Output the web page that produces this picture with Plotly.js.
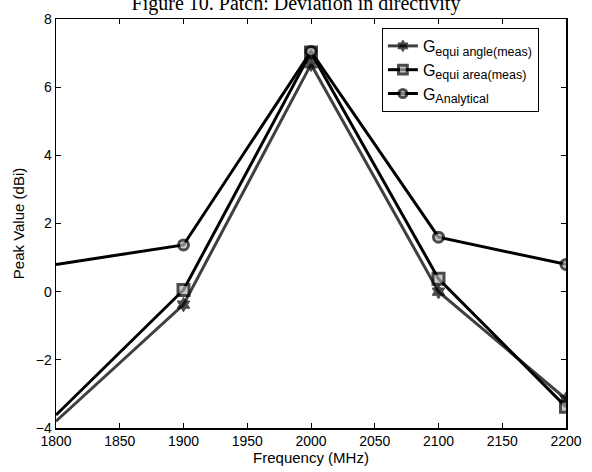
<!DOCTYPE html>
<html>
<head>
<meta charset="utf-8">
<script src="https://cdn.plot.ly/plotly-3.0.1.min.js"></script>
<style>html,body{margin:0;padding:0;background:#fff;}#chart{width:592px;height:472px;}</style>
</head>
<body>
<div id="chart"></div>
<script>
const frequency = [1800, 1900, 2000, 2100, 2200];
const gEquiAngle = [-3.8, -0.38, 6.67, 0.0, -3.15];
const gEquiArea = [-3.62, 0.05, 7.02, 0.38, -3.38];
const gAnalytical = [0.8, 1.37, 7.05, 1.6, 0.8];
const seriesBase = ['G', 'G', 'G'];
const seriesSubs = ['equi angle(meas)', 'equi area(meas)', 'Analytical'];
const xTicks = [1800, 1850, 1900, 1950, 2000, 2050, 2100, 2150, 2200];
const yTicks = [-4, -2, 0, 2, 4, 6, 8];

const names = seriesBase.map((b, i) => b + '<sub><span style="font-size:12.5px">' + seriesSubs[i] + '</span></sub>');
const shown = frequency.map((f, i) => i > 0);
const traces = [
  {x: frequency, y: gEquiAngle, name: names[0], mode: 'lines+markers',
   line: {color: '#404040', width: 3},
   marker: {symbol: 'hexagram', size: shown.map(s => s ? 11 : 0), color: '#000', line: {color: '#000', width: 1}}},
  {x: frequency, y: gEquiArea, name: names[1], mode: 'lines+markers',
   line: {color: '#000', width: 3},
   marker: {symbol: 'square', size: shown.map(s => s ? 11 : 0), color: '#b4b4b4', line: {color: '#000', width: 3}}},
  {x: frequency, y: gAnalytical, name: names[2], mode: 'lines+markers',
   line: {color: '#000', width: 3},
   marker: {symbol: 'circle', size: shown.map(s => s ? 10 : 0), color: '#b4b4b4', line: {color: '#000', width: 3}}}
];

const layout = {
  width: 592, height: 472,
  margin: {l: 56, r: 26, t: 19, b: 44},
  paper_bgcolor: '#fff', plot_bgcolor: '#fff',
  font: {family: 'Liberation Sans, Arial, sans-serif', color: '#000', size: 14},
  title: {text: 'Figure 10. Patch: Deviation in directivity',
          font: {family: 'Liberation Serif, Times New Roman, serif', size: 20, color: '#000'},
          x: 0.5, xanchor: 'center', xref: 'container', yref: 'container', y: 0.993, yanchor: 'middle'},
  xaxis: {range: [1800, 2200], tickvals: xTicks, ticks: 'inside', ticklen: 5, tickcolor: '#000',
          showline: true, linecolor: '#000', linewidth: 1.5, mirror: 'ticks', showgrid: false, zeroline: false,
          tickfont: {size: 14},
          title: {text: 'Frequency (MHz)', font: {size: 15}, standoff: 2}},
  yaxis: {range: [-4, 8], tickvals: yTicks, ticks: 'inside', ticklen: 5, tickcolor: '#000',
          showline: true, linecolor: '#000', linewidth: 1.5, mirror: 'ticks', showgrid: false, zeroline: false,
          tickfont: {size: 14},
          title: {text: 'Peak Value (dBi)', font: {size: 15}, standoff: 7}},
  showlegend: true,
  legend: {x: 0.639, y: 0.978, xanchor: 'left', yanchor: 'top', bordercolor: '#000', borderwidth: 1,
           bgcolor: '#fff', font: {size: 16}, tracegroupgap: 0}
};

Plotly.newPlot('chart', traces, layout, {displayModeBar: false, staticPlot: true});
</script>
</body>
</html>
